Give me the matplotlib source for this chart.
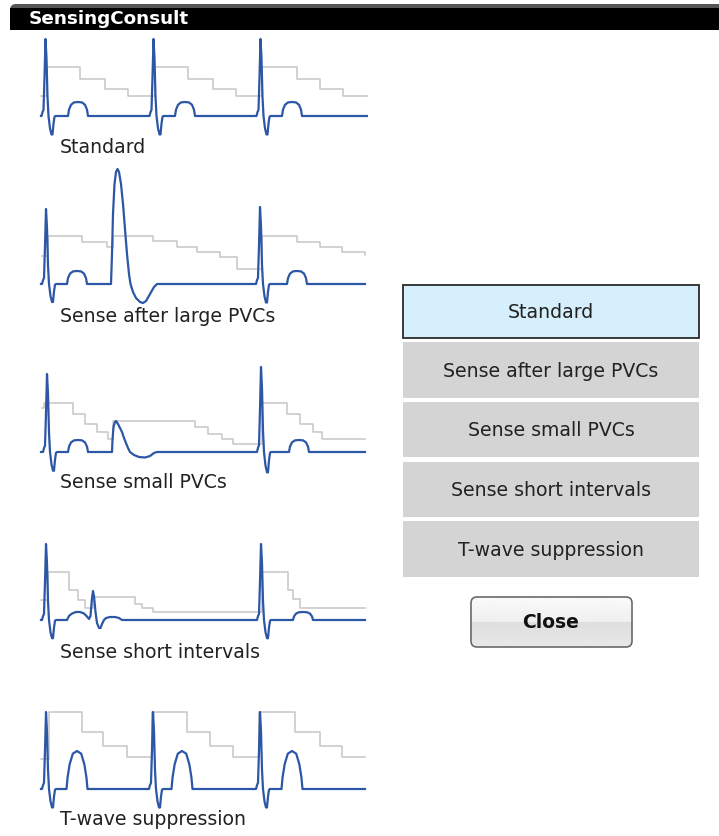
import numpy as np
import matplotlib
matplotlib.use("Agg")
import matplotlib.pyplot as plt
from matplotlib.patches import Rectangle, FancyBboxPatch

####################################
#              data                #
####################################
panel_titles = ["Standard", "Sense after large PVCs", "Sense small PVCs",
                "Sense short intervals", "T-wave suppression"]
button_labels = ["Standard", "Sense after large PVCs", "Sense small PVCs",
                 "Sense short intervals", "T-wave suppression"]

# QRS complex shape around the R peak (time offset, fraction of R amplitude)
qrs_dt = [-4, -3, -2, -1, 0, 1, 2, 3, 4.5, 6, 7, 8, 9, 10]
qrs_f = [0, 0.05, 0.08, 0.5, 1, 0.75, 0.25, 0, -0.16, -0.24, -0.24, -0.1, -0.01, 0]

# T-wave shapes (offset in half widths, fraction of T amplitude)
hump_u = [-1, -0.9, -0.7, -0.4, 0, 0.4, 0.7, 0.9, 1]
hump_round = [0, 0.45, 0.8, 0.97, 1, 0.97, 0.8, 0.45, 0]
hump_peak = [0, 0.3, 0.65, 0.93, 1, 0.93, 0.65, 0.3, 0]

# R waves per panel
r_times = [[7.5, 115.5, 222.5], [8, 222], [9, 223], [8, 223], [8, 115, 222]]
r_amps = [[77, 77, 77], [75, 77], [78, 85], [76, 76], [77, 77, 77]]
# T waves per panel
t_peaks = [[40, 147, 254], [39, 259], [40, 261], [265], [39, 144, 254]]
t_amps = [[14, 14, 14], [13, 13], [12, 12], [8], [38, 38, 38]]
t_half = [10, 10, 10, 10, 10.5]
t_shape = ["round", "round", "round", "round", "peak"]

# extra events (PVCs, short interval beat)
extra_t = [
    [],
    [73, 74, 75, 76.5, 78, 79.5, 81, 83, 85, 87, 89, 91, 92.5, 95, 98, 102, 105, 108, 112, 116, 119],
    [74, 74.5, 75.5, 77, 78, 80, 82, 84, 86, 88, 90, 92, 96, 101, 107, 112, 116, 119],
    [29, 31, 34, 38, 42, 46, 49, 51, 52.5, 54, 55, 56, 57.5, 59, 61, 62.5, 64, 66, 68, 72, 77, 81, 84],
    [],
]
extra_v = [
    [],
    [0, 30, 70, 100, 112, 115, 112, 100, 80, 55, 30, 10, 0, -8, -14, -18, -19, -17, -10, -3, 0],
    [0, 12, 25, 30, 31, 28, 24, 20, 14, 9, 4, 0, -3, -5, -5.5, -4, -1, 0],
    [0, 4, 6.5, 8, 8, 6.5, 3.5, 1, 4, 22, 29, 24, 8, -3, -8, -8, -4, 0, 2, 3, 3, 2, 0],
    [],
]
trace_end = [330, 327, 327, 327, 327]

# sensing threshold steps (time, level)
thr_t = [
    [3, 9, 42, 67, 90, 117, 150, 175, 198, 224, 259, 282, 305, 330],
    [4, 10, 44, 69, 75, 115, 139, 159, 182, 199, 224, 259, 282, 304, 327],
    [4, 6, 35, 47, 59, 70, 75, 157, 170, 184, 195, 224, 249, 262, 275, 284, 327],
    [3, 10, 31, 40, 47, 55, 97, 104, 115, 224, 250, 255, 262, 327],
    [3, 11, 44, 65, 89, 114, 149, 172, 195, 221, 257, 282, 304, 327],
]
thr_v = [
    [20, 49, 37, 27, 20, 49, 37, 27, 20, 49, 37, 27, 20, 20],
    [28, 48, 42, 37, 48, 43, 37, 32, 27, 15, 48, 42, 37, 32, 29],
    [44, 49, 38, 28, 20, 13, 31, 25, 18, 13, 8, 49, 38, 28, 20, 13, 13],
    [20, 48, 30, 20, 12, 23, 16, 12, 8, 48, 30, 21, 12, 12],
    [30, 77, 57, 43, 32, 77, 57, 43, 32, 77, 57, 43, 32, 32],
]

####################################
#             layout               #
####################################
W, H = 719, 837
panel_base = [117, 285, 453, 621, 790]   # baseline pixel rows
panel_x0, panel_w = 38, 330
label_y = [147, 316, 483, 652, 820]
btn_top = [286, 343, 403, 463, 522]
btn_h = [53, 56, 55, 55, 56]
btn_x0, btn_x1 = 403, 699

blue = "#2c56a6"
grey = "#c6c6c6"
fs = 13.6

fig = plt.figure(figsize=(W / 100, H / 100), dpi=100)
ui = fig.add_axes([0, 0, 1, 1])
ui.set_xlim(0, W)
ui.set_ylim(H, 0)
ui.axis("off")

# title bar
ui.add_patch(FancyBboxPatch((10, 5), 720, 26, boxstyle="round,pad=0,rounding_size=6",
                            fc="#555555", ec="none"))
ui.add_patch(Rectangle((10, 9), 720, 22, fc="black", ec="none"))
ui.text(29, 19, "SensingConsult", color="white", fontsize=13.2, fontweight="bold",
        va="center", ha="left")


def build_trace(i):
    hump = hump_round if t_shape[i] == "round" else hump_peak
    pts = [(3, 0)]
    for r, a in zip(r_times[i], r_amps[i]):
        pts += [(r + d, a * f) for d, f in zip(qrs_dt, qrs_f)]
    for p, a in zip(t_peaks[i], t_amps[i]):
        pts += [(p + u * t_half[i], a * h) for u, h in zip(hump_u, hump)]
    pts += list(zip(extra_t[i], extra_v[i]))
    pts.append((trace_end[i], 0))
    pts.sort(key=lambda q: q[0])
    return [q[0] for q in pts], [q[1] for q in pts]


for i in range(5):
    ax = fig.add_axes([panel_x0 / W, 1 - (panel_base[i] + 25) / H, panel_w / W, 145 / H])
    ax.set_xlim(0, panel_w)
    ax.set_ylim(-25, 120)
    ax.axis("off")
    ax.patch.set_alpha(0)
    ax.plot(thr_t[i], thr_v[i], drawstyle="steps-post", color=grey, lw=1.1, zorder=1)
    tx, ty = build_trace(i)
    ax.plot(tx, ty, color=blue, lw=1.6, zorder=2, solid_joinstyle="round")
    ui.text(60, label_y[i], panel_titles[i], fontsize=fs, color="#222222",
            ha="left", va="center")

# selection buttons
for j, lab in enumerate(button_labels):
    if j == 0:
        ui.add_patch(Rectangle((btn_x0, btn_top[j]), btn_x1 - btn_x0, btn_h[j],
                               fc="#d5effc", ec="#2a2a2a", lw=1.3))
    else:
        ui.add_patch(Rectangle((btn_x0, btn_top[j]), btn_x1 - btn_x0, btn_h[j],
                               fc="#d4d4d4", ec="none"))
    ui.text((btn_x0 + btn_x1) / 2, btn_top[j] + btn_h[j] / 2, lab, fontsize=fs,
            color="#222222", ha="center", va="center")

# close button
close_box = FancyBboxPatch((471, 598), 161, 50, boxstyle="round,pad=0,rounding_size=6",
                           fc="none", ec="#6a6a6a", lw=1.2, zorder=3)
ui.add_patch(close_box)
grad = np.concatenate([np.linspace(0.98, 0.94, 25), np.linspace(0.87, 0.91, 25)])
img = ui.imshow(grad[:, None], cmap="gray", vmin=0, vmax=1, aspect="auto",
                extent=(471, 632, 648, 598), zorder=2)
img.set_clip_path(close_box)
ui.set_xlim(0, W)
ui.set_ylim(H, 0)
ui.text(551, 623, "Close", fontsize=13.5, fontweight="bold", color="#111111",
        ha="center", va="center", zorder=4)

plt.savefig("out.png", dpi=100)
